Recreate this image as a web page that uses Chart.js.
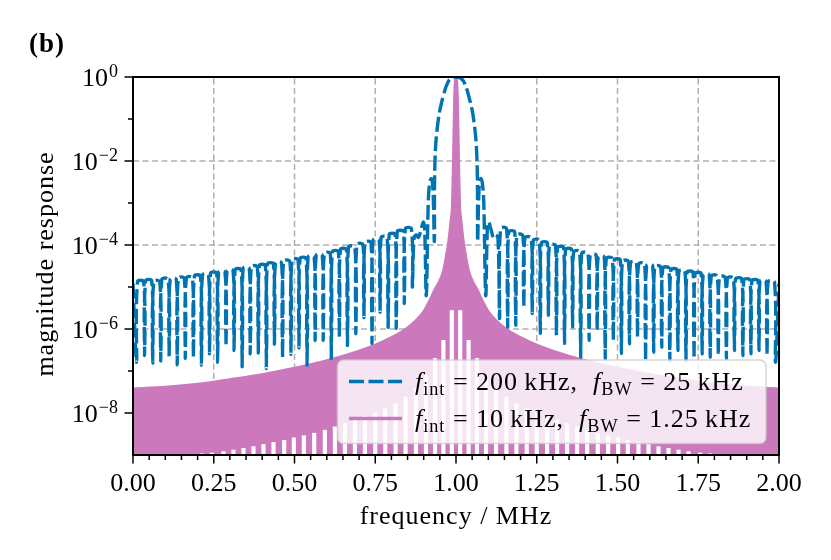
<!DOCTYPE html>
<html>
<head>
<meta charset="utf-8">
<style>
  html, body { margin: 0; padding: 0; background: #fff; }
  canvas { display: block; }
</style>
</head>
<body>
<canvas id="chart" width="831" height="560"></canvas>
<script src="https://cdn.jsdelivr.net/npm/chart.js"></script>
<script>
const FONT = '"Liberation Serif", "Times New Roman", serif';

// axis ticks
const xTicks = [0, 0.25, 0.5, 0.75, 1.0, 1.25, 1.5, 1.75, 2.0];
const xTickLabels = ['0.00', '0.25', '0.50', '0.75', '1.00', '1.25', '1.50', '1.75', '2.00'];
const yTickExp = [0, -2, -4, -6, -8];
const yMinorExp = [-1, -3, -5, -7];

// blue: f_int = 200 kHz (log10 of magnitude)
// comb on the left: null positions, null depths, lobe tops between nulls
const blueNullFreqL = [0.011, 0.036, 0.061, 0.086, 0.112, 0.137, 0.162, 0.187, 0.212, 0.237,
  0.262, 0.288, 0.313, 0.338, 0.363, 0.388, 0.413, 0.438, 0.463, 0.489,
  0.514, 0.539, 0.564, 0.589, 0.614, 0.639, 0.664, 0.690, 0.715, 0.740,
  0.765, 0.790, 0.815, 0.840, 0.865];
const blueNullLogL = [-6.79, -6.63, -6.81, -6.76, -6.65, -6.85, -6.70, -6.68, -6.86, -6.59,
  -6.79, -6.41, -6.51, -6.90, -6.59, -6.57, -6.94, -6.36, -6.68, -6.60,
  -6.45, -6.86, -6.27, -6.27, -6.70, -6.19, -6.39, -6.11, -5.73, -6.34,
  -5.60, -5.96, -5.98, -5.39, -5.00];
const bluePeakLogL = [-4.88, -4.86, -4.88, -4.83, -4.82, -4.80, -4.79, -4.75, -4.72, -4.68,
  -4.66, -4.62, -4.60, -4.56, -4.53, -4.50, -4.46, -4.43, -4.40, -4.36,
  -4.33, -4.29, -4.25, -4.21, -4.17, -4.12, -4.06, -4.00, -3.95, -3.89,
  -3.83, -3.76, -3.69, -3.62];

// comb on the right
const blueNullFreqR = [1.135, 1.160, 1.185, 1.210, 1.236, 1.261, 1.286, 1.311, 1.336, 1.361,
  1.386, 1.412, 1.437, 1.462, 1.487, 1.512, 1.537, 1.562, 1.587, 1.612,
  1.637, 1.662, 1.687, 1.712, 1.737, 1.762, 1.787, 1.812, 1.837, 1.862,
  1.888, 1.913, 1.938, 1.963, 1.989];
const blueNullLogR = [-5.75, -5.95, -5.91, -5.48, -5.63, -6.10, -5.67, -6.15, -6.34, -5.95,
  -6.67, -6.27, -6.03, -6.70, -6.27, -6.58, -6.35, -6.19, -6.75, -6.55,
  -6.43, -6.75, -6.51, -6.75, -6.70, -6.59, -6.67, -6.63, -6.70, -6.51,
  -6.63, -6.59, -6.51, -6.63, -6.79];
const bluePeakLogR = [-3.62, -3.70, -3.78, -3.84, -3.90, -3.96, -4.02, -4.07, -4.12, -4.17,
  -4.21, -4.25, -4.29, -4.33, -4.37, -4.40, -4.43, -4.46, -4.50, -4.53,
  -4.56, -4.60, -4.63, -4.66, -4.69, -4.72, -4.75, -4.78, -4.80, -4.82,
  -4.84, -4.86, -4.87, -4.88];

// main lobe and first side lobes
const blueCoreFreq = [0.870, 0.877, 0.884, 0.892, 0.899, 0.903, 0.908, 0.914, 0.918, 0.923,
  0.927, 0.930, 0.933, 0.935, 0.945, 0.961, 0.976, 0.988, 1.000, 1.012,
  1.024, 1.039, 1.055, 1.065, 1.067, 1.070, 1.073, 1.077, 1.082, 1.086,
  1.092, 1.097, 1.101, 1.108, 1.116, 1.123, 1.130];
const blueCoreLog = [-3.85, -3.76, -3.82, -3.62, -3.45, -3.62, -5.20, -3.00, -2.55, -2.42,
  -2.50, -2.95, -3.90, -1.98, -1.03, -0.44, -0.11, -0.02, 0.00, -0.02,
  -0.11, -0.44, -1.03, -1.98, -3.90, -2.95, -2.50, -2.42, -2.55, -3.00,
  -5.20, -3.62, -3.45, -3.62, -3.82, -3.76, -3.85];
const blueEdgeFreq = [0.0, 2.0];
const blueEdgeLog = [-4.92, -4.92];

// pink: f_int = 10 kHz, upper envelope of the dense response
const pinkEnvFreq = [0.000, 0.100, 0.200, 0.300, 0.400, 0.500, 0.600, 0.700, 0.750, 0.800,
  0.850, 0.900, 0.920, 0.935, 0.950, 0.961, 0.970, 0.977, 0.982, 0.985,
  0.988, 0.990, 0.992, 0.994, 0.996, 1.000, 1.004, 1.006, 1.008, 1.010,
  1.012, 1.015, 1.018, 1.023, 1.030, 1.039, 1.050, 1.065, 1.080, 1.100,
  1.150, 1.200, 1.250, 1.300, 1.400, 1.500, 1.600, 1.700, 1.800, 1.900, 2.000];
const pinkEnvLog = [-7.42, -7.38, -7.31, -7.20, -7.08, -6.93, -6.75, -6.52, -6.38, -6.20,
  -5.97, -5.58, -5.30, -5.05, -4.84, -4.60, -4.25, -3.90, -3.57, -3.35,
  -3.10, -2.50, -1.75, -0.90, -0.30, 0.00, -0.30, -0.90, -1.75, -2.50,
  -3.10, -3.35, -3.57, -3.90, -4.25, -4.60, -4.84, -5.05, -5.30, -5.58,
  -5.97, -6.20, -6.38, -6.52, -6.75, -6.93, -7.08, -7.20, -7.31, -7.38, -7.42];
// white null stripes cut into the pink area (position, top level)
const pinkGapFreq = [0.213, 0.244, 0.280, 0.311, 0.342, 0.373, 0.404, 0.435, 0.468, 0.498,
  0.529, 0.561, 0.594, 0.625, 0.656, 0.687, 0.718, 0.750, 0.781, 0.813,
  0.844, 0.876, 0.907, 0.935, 0.961, 0.987,
  1.013, 1.039, 1.065, 1.093, 1.124, 1.156, 1.187, 1.219, 1.250, 1.282,
  1.313, 1.344, 1.375, 1.406, 1.439, 1.471, 1.502, 1.532, 1.565, 1.596,
  1.627, 1.658, 1.689, 1.720, 1.756, 1.787];
const pinkGapLog = [-8.97, -8.95, -8.92, -8.88, -8.84, -8.80, -8.75, -8.70, -8.65, -8.59,
  -8.54, -8.48, -8.41, -8.33, -8.25, -8.17, -8.08, -8.00, -7.90, -7.78,
  -7.62, -7.40, -7.10, -6.70, -6.27, -5.56,
  -5.56, -6.27, -6.70, -7.10, -7.40, -7.62, -7.78, -7.90, -8.00, -8.08,
  -8.17, -8.25, -8.33, -8.41, -8.48, -8.54, -8.59, -8.65, -8.70, -8.75,
  -8.80, -8.84, -8.88, -8.92, -8.95, -8.97];

const BLUE = '#0173B2';
const PINK = '#CC78BC';
const BLUE_DASH = [15, 4.5];

const pts = (fs, ls) => fs.map((f, i) => ({x: f, y: Math.pow(10, ls[i])}));

// each comb lobe: null, two shoulder points at the lobe top, next null
const SHOULDER = 0.003;
function combPoints(nullF, nullLog, peakLog) {
  const out = [];
  for (let k = 0; k < nullF.length; k++) {
    out.push({x: nullF[k], y: Math.pow(10, nullLog[k])});
    if (k < peakLog.length) {
      out.push({x: nullF[k] + SHOULDER, y: Math.pow(10, peakLog[k])});
      out.push({x: nullF[k + 1] - SHOULDER, y: Math.pow(10, peakLog[k])});
    }
  }
  return out;
}

const bluePoints = [].concat(
  pts(blueEdgeFreq.slice(0, 1), blueEdgeLog.slice(0, 1)),
  combPoints(blueNullFreqL, blueNullLogL, bluePeakLogL),
  pts(blueCoreFreq, blueCoreLog),
  combPoints(blueNullFreqR, blueNullLogR, bluePeakLogR),
  pts(blueEdgeFreq.slice(1), blueEdgeLog.slice(1))
);

const legendRows = [
  {color: BLUE, dash: BLUE_DASH, parts: [{t: 'f', it: 1}, {t: 'int', sub: 1}, {t: ' = 200\u2009kHz,  '}, {t: 'f', it: 1}, {t: 'BW', sub: 1}, {t: ' = 25\u2009kHz'}]},
  {color: PINK, dash: [], parts: [{t: 'f', it: 1}, {t: 'int', sub: 1}, {t: ' = 10\u2009kHz,  '}, {t: 'f', it: 1}, {t: 'BW', sub: 1}, {t: ' = 1.25\u2009kHz'}]}
];

function mathText(ctx, x, y, parts, size) {
  parts.forEach(p => {
    const s = p.sub ? size * 0.7 : size;
    ctx.font = (p.it ? 'italic ' : '') + s + 'px ' + FONT;
    ctx.fillText(p.t, x, y + (p.sub ? size * 0.2 : 0));
    x += ctx.measureText(p.t).width;
  });
}

function roundRect(ctx, x, y, w, h, r) {
  ctx.beginPath();
  ctx.moveTo(x + r, y);
  ctx.arcTo(x + w, y, x + w, y + h, r);
  ctx.arcTo(x + w, y + h, x, y + h, r);
  ctx.arcTo(x, y + h, x, y, r);
  ctx.arcTo(x, y, x + w, y, r);
  ctx.closePath();
}

const decor = {
  id: 'decor',
  beforeDatasetsDraw(chart) {
    const {ctx, chartArea: a, scales: {x, y}} = chart;
    ctx.save();
    ctx.strokeStyle = '#b0b0b0';
    ctx.lineWidth = 1.5;
    ctx.setLineDash([6, 3.5]);
    xTicks.forEach(v => {
      if (v <= x.min || v >= x.max) return;
      const px = x.getPixelForValue(v);
      ctx.beginPath(); ctx.moveTo(px, a.bottom); ctx.lineTo(px, a.top); ctx.stroke();
    });
    yTickExp.forEach(e => {
      const py = y.getPixelForValue(Math.pow(10, e));
      if (py <= a.top + 1 || py >= a.bottom - 1) return;
      ctx.beginPath(); ctx.moveTo(a.left, py); ctx.lineTo(a.right, py); ctx.stroke();
    });
    ctx.restore();
  },
  afterDraw(chart) {
    const {ctx, chartArea: a, scales: {x, y}} = chart;
    ctx.save();
    // frame
    ctx.strokeStyle = '#000';
    ctx.lineWidth = 2;
    ctx.strokeRect(a.left, a.top, a.right - a.left, a.bottom - a.top);
    // ticks
    ctx.lineWidth = 1.5;
    for (let i = 0; i <= 40; i++) {
      const px = x.getPixelForValue(i * 0.05);
      const len = i % 5 === 0 ? 8.5 : 5;
      ctx.beginPath(); ctx.moveTo(px, a.bottom); ctx.lineTo(px, a.bottom + len); ctx.stroke();
    }
    yTickExp.concat(yMinorExp).forEach(e => {
      const py = y.getPixelForValue(Math.pow(10, e));
      const len = e % 2 === 0 ? 8.5 : 5;
      ctx.beginPath(); ctx.moveTo(a.left, py); ctx.lineTo(a.left - len, py); ctx.stroke();
    });
    // tick labels
    ctx.fillStyle = '#000';
    ctx.font = '26px ' + FONT;
    ctx.textAlign = 'center';
    ctx.textBaseline = 'alphabetic';
    xTicks.forEach((v, i) => ctx.fillText(xTickLabels[i], x.getPixelForValue(v), 491));
    ctx.textAlign = 'left';
    yTickExp.forEach(e => {
      const py = y.getPixelForValue(Math.pow(10, e));
      const ex = e === 0 ? '0' : '\u2212' + (-e);
      ctx.font = '26px ' + FONT;
      const w1 = ctx.measureText('10').width;
      ctx.font = '18px ' + FONT;
      const w2 = ctx.measureText(ex).width;
      const x0 = 118 - w1 - w2 - 1;
      ctx.font = '26px ' + FONT;
      ctx.fillText('10', x0, py + 9);
      ctx.font = '18px ' + FONT;
      ctx.fillText(ex, x0 + w1 + 1, py - 0.5);
    });
    // axis titles
    ctx.letterSpacing = '1px';
    ctx.font = '26px ' + FONT;
    ctx.textAlign = 'center';
    ctx.fillText('frequency / MHz', (a.left + a.right) / 2, 524);
    ctx.save();
    ctx.translate(53, 264);
    ctx.rotate(-Math.PI / 2);
    ctx.fillText('magnitude response', 0, 0);
    ctx.restore();
    ctx.textAlign = 'left';
    ctx.font = 'bold 27px ' + FONT;
    ctx.fillText('(b)', 29, 52);
    // legend
    ctx.letterSpacing = '0px';
    roundRect(ctx, 337.5, 360, 428.5, 83.5, 6);
    ctx.fillStyle = 'rgba(255,255,255,0.8)';
    ctx.fill();
    ctx.strokeStyle = 'rgba(204,204,204,0.8)';
    ctx.lineWidth = 1.5;
    ctx.stroke();
    legendRows.forEach((row, i) => {
      const ly = 381.5 + i * 37;
      ctx.strokeStyle = row.color;
      ctx.lineWidth = 3.3;
      ctx.setLineDash(row.dash);
      ctx.beginPath(); ctx.moveTo(349, ly); ctx.lineTo(402, ly); ctx.stroke();
      ctx.setLineDash([]);
      ctx.fillStyle = '#000';
      ctx.letterSpacing = '1px';
      mathText(ctx, 415, ly + 8.5, row.parts, 26);
      ctx.letterSpacing = '0px';
    });
    ctx.restore();
  }
};

new Chart(document.getElementById('chart'), {
  type: 'line',
  data: {
    datasets: [
      {
        label: 'f_int = 200 kHz, f_BW = 25 kHz',
        data: bluePoints,
        borderColor: BLUE,
        borderWidth: 3.4,
        borderDash: BLUE_DASH,
        borderJoinStyle: 'round',
        pointRadius: 0,
        tension: 0.4,
        fill: false,
        order: 0
      },
      {
        type: 'bar',
        label: 'nulls',
        data: pts(pinkGapFreq, pinkGapLog),
        backgroundColor: '#ffffff',
        borderWidth: 0,
        barThickness: 3.5,
        order: 1
      },
      {
        label: 'f_int = 10 kHz, f_BW = 1.25 kHz',
        data: pts(pinkEnvFreq, pinkEnvLog),
        borderColor: PINK,
        backgroundColor: PINK,
        borderWidth: 2.5,
        pointRadius: 0,
        cubicInterpolationMode: 'monotone',
        fill: 'start',
        order: 2
      }
    ]
  },
  options: {
    responsive: false,
    animation: false,
    devicePixelRatio: 1,
    events: [],
    layout: { padding: { left: 133, top: 77, right: 52, bottom: 105 } },
    plugins: { legend: { display: false }, tooltip: { enabled: false } },
    scales: {
      x: { type: 'linear', min: 0, max: 2, offset: false, display: false },
      y: { type: 'logarithmic', min: 1e-9, max: 1, display: false }
    }
  },
  plugins: [decor]
});
</script>
</body>
</html>
